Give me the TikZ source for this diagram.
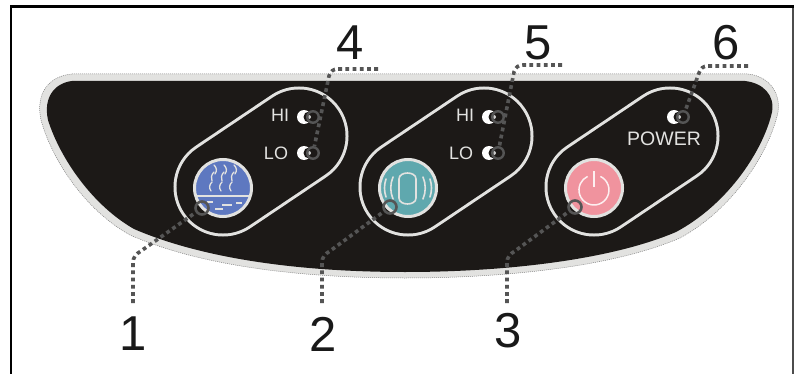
\documentclass[tikz,border=0pt]{standalone}
\usepackage{fontspec}
\setmainfont{Liberation Sans}
\definecolor{panel}{HTML}{1C1917}
\definecolor{rim}{HTML}{E2E2E0}
\definecolor{leader}{HTML}{555555}
\definecolor{btnblue}{HTML}{5E78C0}
\definecolor{btnteal}{HTML}{5FA8AE}
\definecolor{btnpink}{HTML}{F0939E}
\tikzset{
  pill/.style={draw=rim,line width=3pt,double=panel,double distance=93pt,line cap=round},
  btnring/.style={circle,draw=rim,line width=3pt,minimum size=57pt,inner sep=0pt},
  ledtxt/.style={text=rim,font=\fontsize{18}{18}\selectfont,inner sep=0pt},
  pwrtxt/.style={text=rim,font=\fontsize{19.5}{20}\selectfont,inner sep=0pt},
  numtxt/.style={text=black!90,font=\fontsize{49}{49}\selectfont,inner sep=0pt},
  dotline/.style={draw=leader,line width=3.6pt,dash pattern=on 3.8pt off 3.4pt},
  ringmark/.style={circle,draw=leader,line width=2.6pt,minimum size=13pt,inner sep=0pt},
  ledring/.style={circle,draw=leader,line width=2.4pt,minimum size=11.5pt,inner sep=0pt},
  icon/.style={draw=rim,line width=1.6pt,line cap=round}
}
\newcommand{\ledmark}[3]{%
  \fill[white] (#2,#3) circle[radius=7pt];
  \fill[panel] (#2+5,#3) circle[radius=5.5pt];
  \fill[white!80!black] (#2+5,#3) circle[radius=2pt];
  \node[ledring] (#1) at (#2+9,#3) {};}
\begin{document}
\begin{tikzpicture}[x=1pt,y=-1pt]
\useasboundingbox (0,0) rectangle (799,374);
\fill[white] (0,0) rectangle (799,374);
% frame
\draw[black!70,line width=1.4pt] (793,6.5) -- (793,374);
\draw[black,line width=2.6pt] (11,374) -- (11,6.8) -- (793.5,6.8);
% panel
\path[fill=rim,draw=gray,line width=.5pt,dash pattern=on 1pt off 1pt]
  (72,74) -- (748,74)
  .. controls (768,76) and (781,92) .. (778,112)
  .. controls (770,150) and (735,208) .. (680,238)
  .. controls (610,268) and (500,278) .. (405,278)
  .. controls (310,278) and (205,268) .. (130,235)
  .. controls (85,210) and (52,160) .. (41,120)
  .. controls (35,92) and (50,76) .. (72,74) -- cycle;
\fill[panel]
  (72,81) -- (745,81)
  .. controls (763,83) and (775,95) .. (772,112)
  .. controls (764,148) and (730,203) .. (676,232)
  .. controls (608,261) and (500,272) .. (405,272)
  .. controls (310,272) and (208,261) .. (134,229)
  .. controls (92,205) and (60,158) .. (48,120)
  .. controls (43,97) and (55,83) .. (72,81) -- cycle;
% pills
\foreach \s in {0,185,371}{
  \draw[pill] (223+\s,187) -- (299+\s,136);
}
% buttons
\node[btnring,fill=btnblue] (b1) at (223,188) {};
\node[btnring,fill=btnteal] (b2) at (408,188) {};
\node[btnring,fill=btnpink] (b3) at (594,188) {};
% blue icon
\draw[rim,line width=1.6pt] (197,196) -- (249,196);
\draw[rim,line width=1.2pt] (207,202)--(213,202) (222,205)--(232,205) (236,203)--(242,203) (215,209)--(223,209);
\foreach \d in {0,10,20}{
  \draw[icon,line width=1.3pt] (214+\d,165) .. controls (217+\d,168) and (217+\d,171) .. (215+\d,174);
  \draw[icon,line width=1.3pt] (214+\d,172) .. controls (211+\d,175) and (211+\d,178) .. (212+\d,181);
  \draw[icon,line width=1.3pt] (212+\d,182) .. controls (209+\d,185) and (209+\d,188) .. (211+\d,191);
}
% teal icon
\draw[icon] (399,179) .. controls (399,171) and (416,171) .. (416,179) -- (416,198) .. controls (416,206) and (399,206) .. (399,198) -- cycle;
\draw[icon] (393,177) .. controls (390,184) and (390,192) .. (393,199)
            (386,179) .. controls (384,185) and (384,191) .. (386,197)
            (423,177) .. controls (426,184) and (426,192) .. (423,199)
            (430,179) .. controls (432,185) and (432,191) .. (430,197);
% power icon
\draw[draw=white!85!btnpink,line width=1.5pt] (594,171) -- (594,187);
\draw[draw=white!85!btnpink,line width=1.5pt] (600.3,176.4) arc[start angle=-65,end angle=245,radius=15];
% labels on panel
\node[ledtxt] (hi1) at (280,115) {HI};
\node[ledtxt] (lo1) at (276,153) {LO};
\node[ledtxt] (hi2) at (465,115) {HI};
\node[ledtxt] (lo2) at (461,153) {LO};
\node[pwrtxt] (pw) at (664,139) {POWER};
% leds
\ledmark{h1}{304}{117}
\ledmark{l1}{304}{153}
\ledmark{h2}{489}{117}
\ledmark{l2}{489}{153}
\ledmark{p6}{674}{117}
% lower ring marks
\node[ringmark] (m1) at (202,208) {};
\node[ringmark] (m2) at (390,207) {};
\node[ringmark] (m3) at (575,207) {};
% numbers
\node[numtxt] (n1) at (133,333.5) {1};
\node[numtxt] (n2) at (323,334.5) {2};
\node[numtxt] (n3) at (508,331) {3};
\node[numtxt] (n4) at (350,43) {4};
\node[numtxt] (n5) at (538,42.5) {5};
\node[numtxt] (n6) at (726,43) {6};
% leaders
\coordinate (e1) at (133,303);
\coordinate (e2) at (322,303);
\coordinate (e3) at (507,303);
\coordinate (e4) at (378,69);
\coordinate (e5) at (562,65);
\coordinate (e6) at (748,66);
\draw[dotline] (e1) -- (133,263) .. controls (133,257) and (136,254) .. (141,251) -- (m1);
\draw[dotline] (e2) -- (322,263) .. controls (322,257) and (325,254) .. (330,251) -- (m2);
\draw[dotline] (e3) -- (507,263) .. controls (507,257) and (510,254) .. (515,251) -- (m3);
\draw[dotline] (e4) -- (338,69) .. controls (333,69) and (331,71) .. (329,76) -- (l1);
\draw[dotline] (e5) -- (523,65) .. controls (518,65) and (516,67) .. (514,72) -- (l2);
\draw[dotline] (e6) -- (708,66) .. controls (703,66) and (701,68) .. (699,73) -- (p6);
\end{tikzpicture}
\end{document}
